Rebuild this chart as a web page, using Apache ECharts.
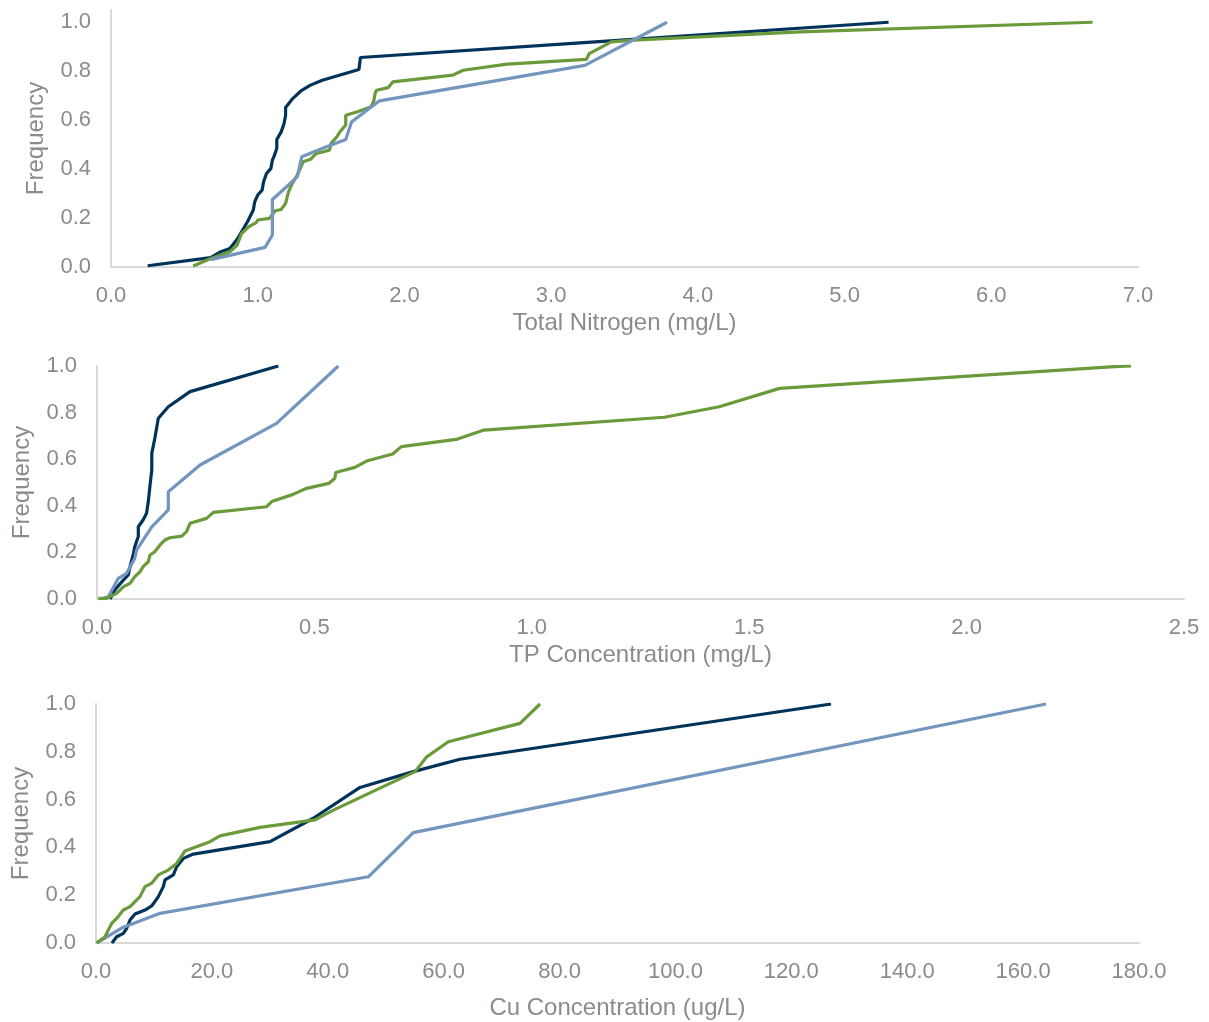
<!DOCTYPE html>
<html>
<head>
<meta charset="utf-8">
<script src="https://cdn.jsdelivr.net/npm/echarts@6/dist/echarts.min.js"></script>
<style>
html,body{margin:0;padding:0;background:#fff;}
#chart{width:1209px;height:1022px;}
</style>
</head>
<body>
<div id="chart"></div>
<script>
// Panel 1: Total Nitrogen
const tnNavyX = [0.25,0.68,0.74,0.81,0.86,0.93,0.97,0.98,1.00,1.03,1.04,1.06,1.09,1.10,1.11,1.13,1.13,1.16,1.18,1.19,1.19,1.24,1.30,1.36,1.44,1.69,1.70,3.30,5.30];
const tnNavyY = [0.005,0.038,0.06,0.076,0.113,0.185,0.233,0.267,0.294,0.314,0.348,0.382,0.403,0.437,0.45,0.484,0.521,0.552,0.587,0.62,0.652,0.689,0.722,0.743,0.763,0.807,0.856,0.92,1.0];
const tnGreenX = [0.56,0.68,0.81,0.86,0.89,0.94,0.99,1.00,1.08,1.12,1.16,1.19,1.21,1.23,1.27,1.30,1.31,1.36,1.40,1.45,1.49,1.50,1.54,1.56,1.60,1.60,1.68,1.77,1.79,1.80,1.81,1.89,1.92,2.33,2.40,2.70,3.24,3.26,3.41,3.56,4.70,6.69];
const tnGreenY = [0.004,0.035,0.062,0.09,0.137,0.165,0.181,0.192,0.199,0.23,0.235,0.26,0.307,0.335,0.376,0.416,0.43,0.44,0.464,0.471,0.478,0.505,0.532,0.552,0.58,0.62,0.634,0.654,0.675,0.709,0.722,0.733,0.756,0.784,0.804,0.829,0.848,0.872,0.92,0.927,0.961,1.0];
const tnBlueX = [0.68,1.05,1.10,1.10,1.21,1.27,1.30,1.47,1.60,1.64,1.83,3.23,3.79];
const tnBlueY = [0.03,0.08,0.131,0.276,0.335,0.369,0.45,0.491,0.521,0.593,0.679,0.824,1.0];

// Panel 2: TP Concentration
const tpNavyX = [0.03,0.041,0.061,0.072,0.076,0.084,0.087,0.095,0.095,0.106,0.114,0.118,0.122,0.126,0.126,0.133,0.141,0.164,0.214,0.417];
const tpNavyY = [0.0,0.039,0.082,0.103,0.139,0.196,0.225,0.268,0.31,0.339,0.368,0.418,0.489,0.554,0.625,0.69,0.776,0.825,0.89,1.0];
const tpBlueX = [0.01,0.026,0.049,0.068,0.087,0.091,0.126,0.164,0.164,0.237,0.413,0.555];
const tpBlueY = [0.0,0.01,0.089,0.11,0.175,0.21,0.31,0.382,0.46,0.575,0.754,1.0];
const tpGreenX = [0.003,0.022,0.045,0.061,0.076,0.087,0.099,0.106,0.118,0.122,0.133,0.145,0.156,0.168,0.195,0.206,0.214,0.252,0.268,0.39,0.402,0.451,0.482,0.533,0.547,0.549,0.593,0.62,0.68,0.70,0.826,0.89,1.305,1.431,1.57,2.34,2.378];
const tpGreenY = [0.003,0.003,0.024,0.053,0.067,0.096,0.117,0.139,0.16,0.189,0.203,0.232,0.253,0.263,0.27,0.289,0.325,0.346,0.372,0.396,0.418,0.449,0.475,0.496,0.518,0.543,0.565,0.592,0.622,0.654,0.685,0.725,0.78,0.825,0.904,0.997,1.0];

// Panel 3: Cu Concentration
const cuNavyX = [2.75,3.57,4.72,5.29,5.87,6.73,8.46,9.61,10.76,11.62,11.91,13.35,13.92,15.07,16.8,30.03,37.5,45.56,54.76,62.82,126.85];
const cuNavyY = [0.0,0.026,0.04,0.061,0.096,0.121,0.138,0.155,0.194,0.236,0.264,0.285,0.319,0.354,0.372,0.424,0.522,0.651,0.717,0.769,1.0];
const cuGreenX = [0.1,1.55,2.7,3.57,4.72,5.87,6.73,7.59,8.46,9.61,10.76,12.48,13.92,15.36,19.67,21.4,28.3,37.8,40.96,55.06,57.08,60.8,73.18,76.63];
const cuGreenY = [0.0,0.026,0.082,0.103,0.138,0.152,0.173,0.194,0.236,0.25,0.285,0.305,0.333,0.385,0.424,0.448,0.484,0.515,0.556,0.717,0.779,0.842,0.919,1.0];
const cuBlueX = [0.1,4.72,6.44,11.05,47.0,54.76,163.96];
const cuBlueY = [0.0,0.066,0.082,0.124,0.277,0.462,1.0];

const xTitles = ['Total Nitrogen (mg/L)', 'TP Concentration (mg/L)', 'Cu Concentration (ug/L)'];
const yTitle = 'Frequency';

const NAVY = '#00335a', GREEN = '#6b9a3b', BLUE = '#7395be';
const TXT = '#878c90', AX = '#d9d9d9';
const FONT = 'Liberation Sans, Arial, sans-serif';

function zip(xs, ys){ return xs.map((x,i)=>[x, ys[i]]); }
function fmt1(v){ return v.toFixed(1); }
function yfmt(v){ return Math.abs(v*5 - Math.round(v*5)) < 1e-6 ? v.toFixed(1) : ''; }

const grids = [
  {left:111, right:71, top:10, bottom:755},
  {left:97, right:25, top:366, bottom:423},
  {left:96, right:70, top:704, bottom:79}
];
const xCfg = [
  {min:0, max:7, interval:1, gap:44},
  {min:0, max:2.5, interval:0.5, gap:44},
  {min:0, max:180, interval:20, gap:53}
];
const yMax = [1.05, 1.0, 1.0];

const xAxes = xCfg.map((c,i)=>({
  type:'value', gridIndex:i, min:c.min, max:c.max, interval:c.interval,
  name:xTitles[i], nameLocation:'middle', nameGap:c.gap,
  nameTextStyle:{color:TXT, fontSize:24, fontFamily:FONT},
  axisLine:{show:true, onZero:false, lineStyle:{color:AX, width:2}},
  axisTick:{show:false}, splitLine:{show:false},
  axisLabel:{color:TXT, fontSize:22, fontFamily:FONT, margin:18, formatter:fmt1}
}));
const yAxes = yMax.map((m,i)=>({
  type:'value', gridIndex:i, min:0, max:m, interval:0.2,
  name:yTitle, nameLocation:'middle', nameGap:63,
  nameTextStyle:{color:TXT, fontSize:24, fontFamily:FONT},
  axisLine:{show:true, lineStyle:{color:AX, width:2}},
  axisTick:{show:false}, splitLine:{show:false},
  axisLabel:{color:TXT, fontSize:22, fontFamily:FONT, margin:20, formatter:yfmt, showMaxLabel: m === 1.0}
}));

function line(name, color, xs, ys, gi){
  return {type:'line', name:name, xAxisIndex:gi, yAxisIndex:gi, data:zip(xs,ys),
    showSymbol:false, symbol:'none', lineStyle:{color:color, width:3.2}, itemStyle:{color:color},
    animation:false, z: 2};
}

const series = [
  line('Navy', NAVY, tnNavyX, tnNavyY, 0),
  line('Green', GREEN, tnGreenX, tnGreenY, 0),
  line('Blue', BLUE, tnBlueX, tnBlueY, 0),
  line('Navy', NAVY, tpNavyX, tpNavyY, 1),
  line('Blue', BLUE, tpBlueX, tpBlueY, 1),
  line('Green', GREEN, tpGreenX, tpGreenY, 1),
  line('Navy', NAVY, cuNavyX, cuNavyY, 2),
  line('Blue', BLUE, cuBlueX, cuBlueY, 2),
  line('Green', GREEN, cuGreenX, cuGreenY, 2)
];

const chart = echarts.init(document.getElementById('chart'), null, {renderer:'canvas'});
chart.setOption({
  animation:false,
  backgroundColor:'#ffffff',
  grid:grids, xAxis:xAxes, yAxis:yAxes, series:series
});
</script>
</body>
</html>
